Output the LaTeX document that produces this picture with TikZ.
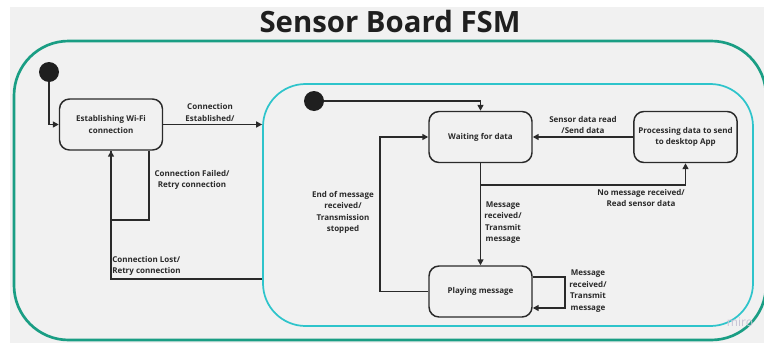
\documentclass[tikz,border=0pt]{standalone}
\usepackage{fontspec}
\setmainfont{Open Sans}
\usetikzlibrary{arrows.meta,positioning}
\definecolor{bgrey}{HTML}{F1F1F1}
\definecolor{outerteal}{HTML}{1A9E84}
\definecolor{innercyan}{HTML}{2EC4CB}
\definecolor{inkdark}{HTML}{2A2A2A}
\definecolor{wmark}{HTML}{C9C4D6}
\tikzset{
  statebox/.style={draw=inkdark, line width=1.1pt, fill=bgrey, rounded corners=7.5pt,
    minimum width=77.25pt, minimum height=38.25pt, align=center,
    font=\fontsize{6}{8.6}\selectfont\bfseries, text=inkdark},
  initdot/.style={circle, fill=black!88, minimum size=15pt, inner sep=0pt},
  flow/.style={draw=inkdark, line width=1.4pt},
  arr/.style={flow, -{Triangle[length=4.5pt,width=4.5pt]}},
  lbl/.style={align=center, font=\fontsize{6}{8.6}\selectfont\bfseries, text=inkdark, inner sep=0pt},
}
\begin{document}
\begin{tikzpicture}[x=0.75pt,y=-0.75pt]
  \useasboundingbox (0,0) rectangle (764,343);
  \clip (0,0) rectangle (764,343);
  \fill[white] (0,0) rectangle (764,343);
  \fill[bgrey] (10,7) rectangle (764,343);

  % title
  \node[anchor=base, font=\fontsize{22}{25}\selectfont\bfseries, text=black!88, inner sep=0pt] (title) at (390,32) {Sensor Board FSM};

  % outer system state and inner operating state
  \node[draw=outerteal, line width=2pt, rounded corners=41pt, minimum width=564pt, minimum height=224.25pt] (sys) at (390,190.5) {};
  \node[draw=innercyan, line width=1.3pt, rounded corners=32pt, minimum width=367.5pt, minimum height=181.5pt] (op) at (508,205) {};

  % watermark
  \node[font=\fontsize{9}{10}\selectfont, text=wmark] (wm) at (740,322) {miro};

  % states
  \node[statebox] (wifi) at (111,124.5) {Establishing Wi-Fi\\connection};
  \node[statebox] (wait) at (480.5,137) {Waiting for data};
  \node[statebox] (proc) at (685.5,137) {Processing data to send\\to desktop App};
  \node[statebox] (play) at (480.5,291.5) {Playing message};

  % initial pseudo-states
  \node[initdot] (s0) at (49,72) {};
  \node[initdot] (s1) at (314,101) {};

  % bend points
  \coordinate (f1) at (149,220);
  \coordinate (l1) at (111,279);
  \coordinate (b1) at (480.5,185);
  \coordinate (e1) at (380,291.5);
  \coordinate (lp1) at (565,277);
  \coordinate (lp2) at (565,308);

  % transitions
  \draw[arr] (s0) |- (wifi.west);
  \draw[arr] (wifi.east) -- (wifi.east -| op.west);
  \draw[flow] (op.west |- l1) -| (wifi.south);
  \draw[arr] (wifi.south -| f1) -- (f1) -| (wifi.south);
  \draw[arr] (s1) -| (wait.north);
  \draw[arr] (proc.west) -- (wait.east);
  \draw[arr] (wait.south) -- (play.north);
  \draw[arr] (b1) -| (proc.south);
  \draw[arr] (play.west) -- (e1) |- (wait.west);
  \draw[arr] (play.east |- lp1) -- (lp1) -- (lp2) -- (play.east |- lp2);

  % transition labels
  \node[lbl] (tEst) at (210,112.5) {Connection\\Established/};
  \node[lbl] (tFail) at (192,180) {Connection Failed/\\Retry connection};
  \node[lbl, anchor=west, align=left] (tLost) at (112,266) {Connection Lost/\\Retry connection};
  \node[lbl] (tSens) at (583,125) {Sensor data read\\/Send data};
  \node[lbl] (tNone) at (641,198) {No message received/\\Read sensor data};
  \node[lbl] (tMsg) at (503,222.5) {Message\\received/\\Transmit\\message};
  \node[lbl] (tEnd) at (343,212.5) {End of message\\received/\\Transmission\\stopped};
  \node[lbl] (tLoop) at (588,291) {Message\\received/\\Transmit\\message};
\end{tikzpicture}
\end{document}
